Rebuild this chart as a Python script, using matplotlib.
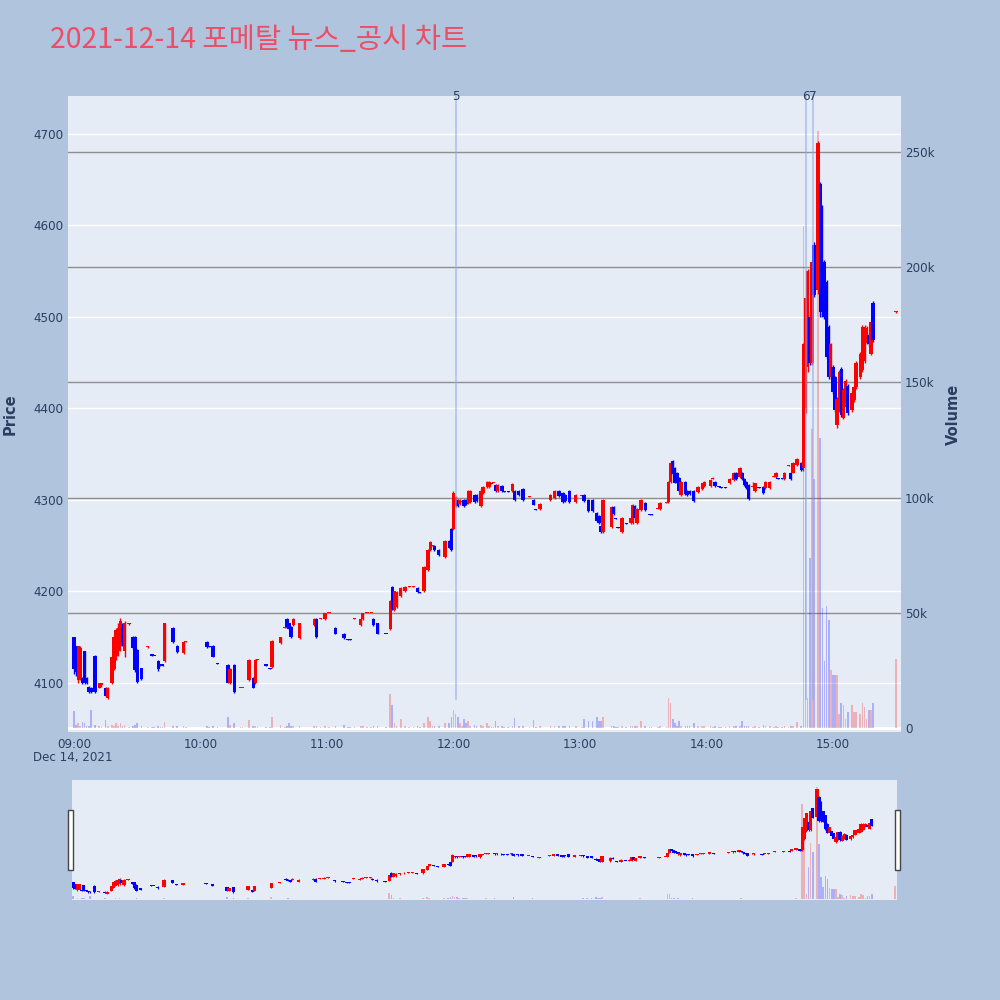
import matplotlib
matplotlib.use("Agg")
import matplotlib.pyplot as plt
import matplotlib.transforms as mtransforms
from matplotlib.patches import Rectangle

plt.rcParams['font.family'] = ['DejaVu Sans']

# ---------------- data (1-minute candles, 2021-12-14) ----------------
times = [
    "09:00","09:01","09:02","09:03","09:04","09:05","09:06","09:07","09:08","09:10",
    "09:12","09:13","09:15","09:16","09:18","09:19","09:20","09:21","09:22","09:23",
    "09:24","09:26","09:28","09:29","09:30","09:32","09:35","09:37","09:38","09:40",
    "09:41","09:42","09:43","09:47","09:49","09:52","09:53",
    "10:03","10:04","10:06","10:08","10:13","10:14","10:16","10:19","10:20","10:23",
    "10:25","10:26","10:27","10:31","10:33","10:34","10:38","10:40","10:41","10:42",
    "10:43","10:44","10:47","10:54","10:55","10:57","10:59","11:01","11:04","11:08",
    "11:10","11:11","11:13","11:16","11:17","11:19","11:21","11:22","11:24","11:28",
    "11:30","11:31","11:32","11:33","11:35","11:37","11:39","11:41","11:43","11:44",
    "11:46","11:48","11:49","11:50","11:51","11:53","11:56","11:58","11:59","12:00",
    "12:01","12:02","12:03","12:04","12:05","12:06","12:07","12:08","12:10","12:11",
    "12:13","12:14","12:16","12:17","12:18","12:19","12:20","12:21","12:23","12:24",
    "12:26","12:28","12:29","12:31","12:33","12:36","12:38","12:39","12:41","12:46",
    "12:48","12:50","12:52","12:53","12:55","12:58",
    "13:01","13:02","13:04","13:06","13:08","13:09","13:10","13:11","13:15","13:16",
    "13:17","13:18","13:20","13:22","13:24","13:25","13:26","13:27","13:29","13:31",
    "13:33","13:34","13:37","13:38","13:41","13:42","13:43","13:44","13:45","13:46",
    "13:47","13:48","13:50","13:51","13:52","13:54","13:56","13:58","13:59","14:02",
    "14:03","14:04","14:06","14:07","14:09","14:11","14:13","14:14","14:16","14:17",
    "14:18","14:19","14:20","14:22","14:23","14:25","14:27","14:28","14:30","14:32",
    "14:33","14:34","14:36","14:37","14:39","14:40","14:41","14:43","14:45",
    "14:46","14:47","14:48","14:49","14:50","14:51","14:53","14:54","14:55","14:56",
    "14:57","14:58","14:59","15:00","15:01","15:02","15:03","15:04","15:05","15:06",
    "15:07","15:09","15:10","15:11","15:13","15:14","15:15","15:16","15:17","15:18",
    "15:19","15:30",
]
opens = [
    4150,4140,4103,4105,4105,4135,4105,4096,4095,4130, 4095,4098,4095,4084,4100,4115,4130,4135,4140,4160,
    4135,4164,4150,4150,4136,4116,4139,4131,4130,4124, 4120,4120,4124,4160,4140,4133,4145,
    4145,4140,4140,4122,4120,4100,4120,4094,4094,4103, 4105,4100,4125,4120,4116,4117,4144,4160,4170,4165,
    4161,4163,4149,4163,4170,4170,4170,4176,4160,4154, 4148,4148,4170,4163,4170,4176,4176,4170,4165,4154,
    4159,4205,4180,4183,4195,4200,4205,4205,4204,4199, 4200,4223,4245,4250,4250,4245,4238,4255,4268,4268,
    4293,4300,4296,4298,4300,4300,4297,4298,4305,4305, 4293,4308,4314,4314,4318,4318,4316,4310,4315,4310,
    4310,4310,4310,4310,4312,4303,4300,4290,4290,4300, 4302,4310,4308,4305,4310,4298,
    4304,4305,4300,4300,4286,4283,4271,4265,4270,4292, 4280,4270,4265,4275,4275,4275,4293,4275,4289,4297,
    4285,4285,4290,4290,4297,4298,4320,4343,4335,4330, 4324,4305,4320,4310,4310,4310,4309,4312,4315,4315,
    4323,4320,4315,4314,4314,4318,4322,4330,4325,4330, 4323,4320,4316,4314,4310,4314,4314,4313,4313,4325,
    4325,4324,4324,4323,4337,4330,4330,4338,4340,
    4335,4400,4445,4500,4450,4579,4530,4645,4560,4560, 4538,4489,4434,4445,4434,4382,4398,4443,4390,4402,
    4425,4398,4409,4423,4434,4442,4452,4472,4480,4460, 4515,4505,
]
highs = [
    4150,4140,4140,4140,4106,4135,4106,4097,4096,4131, 4100,4100,4096,4096,4130,4152,4160,4166,4171,4165,
    4168,4166,4151,4151,4137,4116,4140,4131,4130,4125, 4120,4120,4166,4161,4141,4146,4146,
    4146,4140,4141,4122,4121,4116,4121,4095,4095,4126, 4106,4126,4126,4120,4116,4147,4150,4161,4171,4166,
    4162,4171,4166,4171,4171,4171,4177,4177,4161,4155, 4148,4148,4171,4171,4177,4177,4177,4171,4166,4154,
    4191,4206,4201,4200,4205,4206,4206,4206,4205,4199, 4228,4246,4255,4251,4251,4246,4256,4256,4269,4310,
    4304,4301,4301,4299,4301,4301,4311,4311,4306,4306, 4312,4315,4321,4321,4318,4319,4317,4317,4316,4310,
    4310,4318,4311,4311,4313,4304,4301,4290,4297,4306, 4311,4311,4309,4306,4311,4306,
    4305,4306,4301,4301,4287,4284,4272,4301,4293,4293, 4280,4270,4281,4275,4281,4296,4294,4291,4301,4298,
    4285,4285,4291,4298,4298,4321,4341,4344,4336,4331, 4325,4321,4321,4311,4311,4311,4315,4319,4321,4323,
    4325,4321,4315,4314,4314,4324,4331,4331,4336,4331, 4324,4321,4317,4320,4319,4314,4315,4321,4321,4326,
    4331,4324,4324,4331,4338,4331,4341,4346,4341,
    4472,4522,4552,4505,4562,4582,4692,4648,4622,4562, 4540,4491,4472,4448,4436,4412,4442,4445,4422,4432,
    4427,4419,4425,4452,4462,4491,4491,4490,4482,4496, 4517,4506,
]
lows = [
    4110,4108,4100,4103,4099,4099,4099,4089,4089,4089, 4094,4096,4085,4083,4099,4114,4125,4130,4135,4140,
    4128,4163,4137,4112,4100,4103,4138,4129,4129,4113, 4119,4119,4123,4144,4133,4132,4145,
    4138,4139,4128,4121,4100,4099,4089,4094,4094,4102, 4094,4099,4125,4119,4115,4116,4143,4160,4160,4158,
    4149,4162,4148,4162,4149,4170,4169,4176,4153,4148, 4147,4147,4170,4162,4169,4176,4176,4162,4153,4153,
    4158,4180,4179,4182,4194,4199,4205,4205,4198,4198, 4199,4222,4244,4250,4244,4239,4237,4247,4244,4267,
    4292,4292,4295,4298,4292,4295,4296,4297,4297,4298, 4292,4307,4313,4313,4317,4318,4309,4309,4309,4309,
    4309,4309,4299,4304,4299,4303,4294,4289,4289,4299, 4301,4303,4297,4298,4297,4297,
    4304,4298,4287,4287,4276,4274,4264,4264,4269,4284, 4279,4269,4264,4274,4274,4274,4279,4274,4288,4288,
    4284,4284,4290,4289,4297,4297,4319,4327,4318,4318, 4309,4304,4305,4304,4305,4298,4308,4311,4314,4314,
    4323,4314,4314,4313,4313,4317,4321,4322,4324,4322, 4315,4312,4300,4314,4309,4313,4307,4312,4312,4325,
    4324,4323,4323,4322,4337,4322,4329,4337,4332,
    4332,4395,4440,4448,4448,4522,4525,4500,4500,4498, 4454,4432,4432,4416,4396,4379,4396,4391,4388,4400,
    4393,4396,4407,4421,4432,4440,4450,4470,4468,4458, 4473,4504,
]
closes = [
    4115,4112,4140,4138,4100,4100,4100,4090,4090,4090, 4100,4100,4086,4095,4128,4150,4158,4160,4168,4145,
    4165,4165,4138,4114,4101,4104,4140,4130,4129,4115, 4119,4119,4165,4145,4134,4145,4146,
    4139,4139,4128,4121,4100,4115,4090,4095,4095,4125, 4095,4125,4126,4119,4115,4146,4150,4161,4161,4159,
    4150,4170,4165,4170,4150,4171,4176,4177,4154,4149, 4147,4147,4171,4170,4176,4177,4177,4163,4154,4153,
    4190,4181,4200,4199,4204,4205,4206,4206,4199,4198, 4227,4245,4254,4251,4245,4240,4255,4248,4245,4308,
    4303,4293,4300,4299,4293,4296,4310,4310,4298,4299, 4310,4314,4320,4320,4317,4319,4310,4316,4310,4309,
    4309,4317,4300,4305,4300,4304,4295,4289,4296,4305, 4310,4304,4298,4299,4298,4305,
    4305,4299,4288,4288,4277,4275,4265,4300,4292,4285, 4279,4269,4280,4274,4280,4295,4280,4290,4300,4289,
    4284,4284,4291,4297,4298,4320,4340,4328,4319,4319, 4310,4320,4306,4305,4306,4299,4314,4318,4320,4322,
    4324,4315,4314,4313,4313,4323,4330,4323,4335,4323, 4316,4313,4301,4315,4318,4313,4308,4320,4320,4326,
    4330,4323,4323,4330,4338,4323,4340,4345,4333,
    4470,4521,4550,4450,4560,4524,4690,4505,4505,4500, 4456,4434,4470,4418,4398,4410,4440,4393,4420,4430,
    4395,4417,4423,4450,4460,4489,4489,4488,4470,4494, 4475,4506,
]
volumes_k = [
    7.5,1.5,2,1,2.5,2,1,1,8,1.5, 1,0.5,3.5,1,1.5,1,2,1,2,1,
    1.5,0.5,1,1.5,2,1,0.5,0.5,0.5,1, 0.5,0.5,2.6,1,1,1,0.5,
    1,0.5,1,0.5,5,1.5,2,0.5,0.5,3.5, 1,1,0.5,0.5,0.5,5,1.5,0.5,1,2,
    1,1,1,1,1,0.5,1,0.5,1,1.5, 0.5,0.5,0.5,1,1,0.5,0.5,1,1,0.5,
    15,10,2,1,4,1,0.5,0.5,1,0.5, 2,5,3,1,1,1,2,2,5,8,
    6,5,2,1,4,2,3,1,1.5,1, 1.5,1,2,1,0.5,0.5,3,1,1,0.5,
    0.5,1,4.5,1,1,0.5,3.5,0.5,1,1, 1,1,1,1,1,1,
    0.5,4,3,3,5,3,3,5,1,1, 0.5,0.5,1,0.5,1,1,1,1,3,1,
    0.5,0.5,0.5,1,0.5,13,11,4,2,1, 3,1,1,1,1,2,1,1,1,1,
    0.5,1,0.5,0.5,0.5,1,1,1,1,3, 1,1,1,0.5,1,0.5,1.5,1,1,0.5,
    1,0.5,0.5,1,0.5,1,1,2.6,1,
    218,140,13,74,130,108,259,126,52,29, 53,47,25,23,23,23,6,11,10,4,
    7,10,7,7,6,11,9,4,8,8, 11,30,
]

news_times = ["12:01", "14:47", "14:50:30"]
news_labels = ["5", "6", "7"]

price_ticks = [4100, 4200, 4300, 4400, 4500, 4600, 4700]
vol_ticks_k = [0, 50, 100, 150, 200, 250]
vol_tick_labels = ["0", "50k", "100k", "150k", "200k", "250k"]
hour_ticks = ["09:00", "10:00", "11:00", "12:00", "13:00", "14:00", "15:00"]
date_label = "Dec 14, 2021"
title = "2021-12-14 포메탈 뉴스_공시 차트"

assert len(times) == len(opens) == len(highs) == len(lows) == len(closes) == len(volumes_k)

# ---------------- styling ----------------
PAPER = "#B0C4DE"
PLOT_BG = "#E5ECF6"
FONT = "#2a3f5f"
UP = "#FF0000"
DOWN = "#0000FF"
TITLE_COLOR = "#EB4F67"
TICK_FS = 8.6

W, H = 1000, 1000


def to_min(t):
    p = [int(v) for v in t.split(":")]
    return (p[0] - 9) * 60 + p[1] + (p[2] / 60.0 if len(p) > 2 else 0.0)


def fr(x0, y0, x1, y1):
    return [x0 / W, 1 - y1 / H, (x1 - x0) / W, (y1 - y0) / H]


xs = [to_min(t) for t in times]
vols = [v * 1000 for v in volumes_k]
up = [c >= o for o, c in zip(opens, closes)]
cols = [UP if u else DOWN for u in up]

P_LIM = (4046.4, 4741.5)
V_LIM = (-1700, 274300)

fig = plt.figure(figsize=(10, 10), dpi=100, facecolor=PAPER)


def draw_candles(ax, body_w, wick_lw, min_h):
    ax.vlines(xs, lows, highs, colors=cols, linewidth=wick_lw, zorder=3)
    bottoms = [min(o, c) for o, c in zip(opens, closes)]
    hts = [max(abs(c - o), min_h) for o, c in zip(opens, closes)]
    ax.bar(xs, hts, bottom=bottoms, width=body_w, color=cols, linewidth=0, zorder=4)


def draw_volume(ax, width):
    ax.bar(xs, vols, width=width, color=cols, alpha=0.25, linewidth=0, zorder=2)


# ---------------- main plot ----------------
ax_v = fig.add_axes(fr(68, 96, 901, 732))
ax_p = fig.add_axes(fr(68, 96, 901, 732), sharex=ax_v)
ax_p.patch.set_visible(False)
ax_v.set_facecolor(PLOT_BG)

XLIM = (-2.85, 392.3)
ax_v.set_xlim(*XLIM)
ax_v.set_ylim(*V_LIM)
ax_p.set_ylim(*P_LIM)

trans_pg = mtransforms.blended_transform_factory(ax_v.transAxes, ax_p.transData)
for p in price_ticks:
    ax_v.plot([0, 1], [p, p], transform=trans_pg, color="white", lw=1, zorder=0.5)
for v in vol_ticks_k[1:]:
    ax_v.axhline(v * 1000, color="#8f8f8f", lw=1, zorder=0.6)
ax_v.axhline(0, color="white", lw=2, zorder=0.7)

draw_volume(ax_v, 0.8)
draw_candles(ax_p, 1.6, 1.0, 1.2)

# news vertical lines
trans_nx = mtransforms.blended_transform_factory(ax_p.transData, ax_p.transAxes)
low_min = min(lows)
for t, lab in zip(news_times, news_labels):
    xm = to_min(t)
    ax_p.plot([xm, xm], [low_min, P_LIM[1]], color="#94a9e8", alpha=0.6, lw=1.3, zorder=5)
    ax_p.text(xm, 1.0, lab, transform=trans_nx, ha="center", va="center",
              fontsize=TICK_FS, color=FONT, zorder=6)

for a in (ax_v, ax_p):
    for s in a.spines.values():
        s.set_visible(False)

ax_p.set_yticks(price_ticks)
ax_p.set_yticklabels([str(p) for p in price_ticks])
ax_p.tick_params(axis="y", length=0, pad=3, labelsize=TICK_FS, labelcolor=FONT)
ax_p.set_xticks([to_min(t) for t in hour_ticks])
ax_p.set_xticklabels(hour_ticks)
ax_p.tick_params(axis="x", length=0, pad=4, labelsize=TICK_FS, labelcolor=FONT)

ax_v.yaxis.tick_right()
ax_v.set_yticks([v * 1000 for v in vol_ticks_k])
ax_v.set_yticklabels(vol_tick_labels)
ax_v.tick_params(axis="y", length=0, pad=3, labelsize=TICK_FS, labelcolor=FONT)
ax_v.tick_params(axis="x", length=0, labelbottom=False)

fig.text(73 / W, 1 - 757 / H, date_label, ha="center", va="center", fontsize=TICK_FS, color=FONT)
fig.text(10 / W, 1 - 414 / H, "Price", rotation=90, ha="center", va="center",
         fontsize=10.5, fontweight="bold", color=FONT)
fig.text(953 / W, 1 - 414 / H, "Volume", rotation=90, ha="center", va="center",
         fontsize=10.5, fontweight="bold", color=FONT)
fig.text(50 / W, 1 - 40 / H, title, ha="left", va="center", fontsize=20.5,
         color=TITLE_COLOR, family=["Noto Sans CJK KR", "DejaVu Sans"])

# ---------------- range slider ----------------
s_rect = fr(72, 780, 897, 900)
ax_sv = fig.add_axes(s_rect)
ax_sp = fig.add_axes(s_rect, sharex=ax_sv)
ax_sp.patch.set_visible(False)
ax_sv.set_facecolor(PLOT_BG)
ax_sv.set_xlim(-0.6, 391)
ax_sv.set_ylim(*V_LIM)
ax_sp.set_ylim(*P_LIM)
draw_volume(ax_sv, 0.8)
draw_candles(ax_sp, 1.6, 0.8, 1.5)
for a in (ax_sv, ax_sp):
    a.set_xticks([])
    a.set_yticks([])
    for s in a.spines.values():
        s.set_visible(False)

for hx in (68, 895):
    fig.add_artist(Rectangle((hx / W, 1 - 870 / H), 5 / W, 60 / H, transform=fig.transFigure,
                             facecolor="white", edgecolor="#444444", lw=1))

fig.savefig("out.png", dpi=100, facecolor=PAPER)
